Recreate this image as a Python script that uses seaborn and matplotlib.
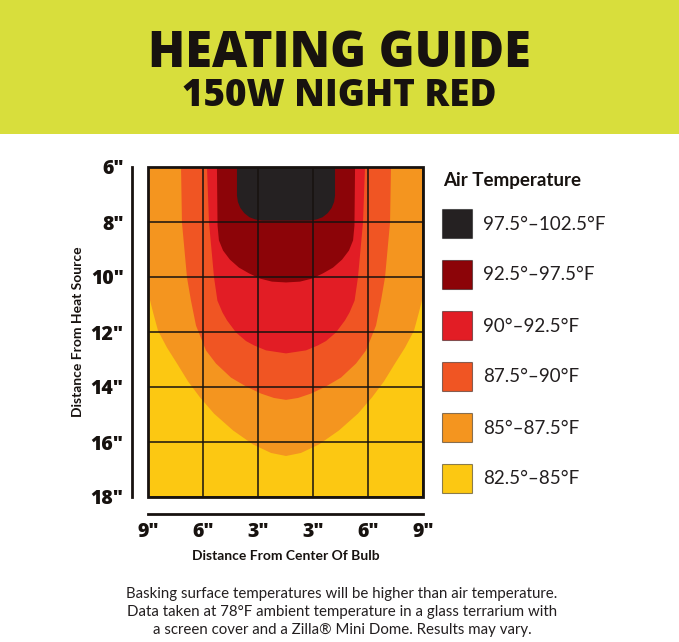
import numpy as np
import matplotlib
matplotlib.use("Agg")
import matplotlib.pyplot as plt
from matplotlib.patches import Rectangle
import seaborn as sns

# ---------------- data ----------------
title_main = "HEATING GUIDE"
title_sub = "150W NIGHT RED"

x_tick_pos = [-9, -5.4, -1.8, 1.8, 5.4, 9]
x_tick_labels = ['9"', '6"', '3"', '3"', '6"', '9"']
y_ticks = [6, 8, 10, 12, 14, 16, 18]
y_tick_labels = ['6"', '8"', '10"', '12"', '14"', '16"', '18"']

band_labels = ["97.5°–102.5°F", "92.5°–97.5°F", "90°–92.5°F",
               "87.5°–90°F", "85°–87.5°F", "82.5°–85°F"]
band_colors = ["#252122", "#8c0408", "#e21d25", "#f05523", "#f4951f", "#fcc812"]

# outer boundary of each temperature zone: depth (in) and half-width (in)
depth_975 = [6.00, 7.02, 7.25, 7.47, 7.66, 7.81, 7.89, 7.93, 7.93]
halfw_975 = [3.21, 3.21, 3.15, 2.99, 2.73, 2.39, 2.00, 1.57, 0.00]

depth_925 = [6.00, 8.11, 8.65, 9.02, 9.35, 9.64, 9.85, 10.04, 10.15, 10.18]
halfw_925 = [4.52, 4.48, 4.39, 4.12, 3.67, 3.08, 2.42, 1.70, 0.92, 0.00]

depth_900 = [6.00, 8.00, 10.00, 10.84, 11.27, 11.56, 12.00, 12.31, 12.47, 12.65, 12.76]
halfw_900 = [5.17, 5.04, 4.71, 4.49, 4.16, 3.86, 3.27, 2.62, 2.09, 1.31, 0.00]

depth_875 = [6.00, 8.00, 10.00, 10.84, 11.75, 12.11, 12.65, 13.13, 13.64, 13.96, 14.22, 14.38, 14.45]
halfw_875 = [6.87, 6.81, 6.48, 6.22, 5.89, 5.63, 5.24, 4.58, 3.60, 2.62, 1.64, 0.79, 0.00]

depth_850 = [6.00, 9.02, 10.55, 11.27, 11.93, 12.55, 13.13, 13.78, 14.36, 14.95, 15.56, 16.07, 16.38, 16.49]
halfw_850 = [9.82, 9.49, 9.03, 8.70, 8.38, 7.79, 7.13, 6.41, 5.63, 4.71, 3.47, 2.16, 0.98, 0.00]

footer_lines = [
    "Basking surface temperatures will be higher than air temperature.",
    "Data taken at 78°F ambient temperature in a glass terrarium with",
    "a screen cover and a Zilla® Mini Dome. Results may vary.",
]

# ---------------- figure ----------------
sns.set_theme(style="white")
plt.rcParams["font.family"] = ["Lato", "DejaVu Sans"]

heavy = "Open Sans"

W, H = 679, 642
fig = plt.figure(figsize=(W / 100, H / 100), dpi=100)
fig.patch.set_facecolor("white")

def fx(px):
    return px / W

def fy(py):
    return 1 - py / H

ink = "#17120f"

# header band
fig.patches.append(Rectangle((0, fy(134)), 1, 134 / H, transform=fig.transFigure,
                             facecolor="#d8de3c", edgecolor="none", zorder=0))
fig.text(fx(339), fy(67), title_main, ha="center", va="baseline",
         fontsize=35, fontweight=800, family=heavy, color=ink)
fig.text(fx(339.5), fy(106), title_sub, ha="center", va="baseline",
         fontsize=26.5, fontweight=800, family=heavy, color=ink)

# main plot
ax = fig.add_axes([fx(148), fy(497), 275 / W, 330 / H])
ax.set_xlim(-9, 9)
ax.set_ylim(18, 6)
ax.set_facecolor(band_colors[5])

zones = [(depth_850, halfw_850, band_colors[4]),
         (depth_875, halfw_875, band_colors[3]),
         (depth_900, halfw_900, band_colors[2]),
         (depth_925, halfw_925, band_colors[1]),
         (depth_975, halfw_975, band_colors[0])]
for d, hw, c in zones:
    d = np.asarray(d)
    hw = np.asarray(hw)
    ax.fill_betweenx(d, -hw, hw, color=c, lw=0, zorder=1)

ax.set_xticks(x_tick_pos)
ax.set_xticklabels(x_tick_labels)
ax.set_yticks(y_ticks)
ax.set_yticklabels(y_tick_labels)
ax.grid(True, color=ink, lw=1.1)
ax.set_axisbelow(False)

for s in ["top", "right"]:
    ax.spines[s].set_visible(False)
ax.spines["left"].set_position(("outward", 11.5))
ax.spines["bottom"].set_position(("outward", 12.2))
for s in ["left", "bottom"]:
    ax.spines[s].set_linewidth(2.0)
    ax.spines[s].set_color(ink)
ax.add_patch(Rectangle((-9, 6), 18, 12, fill=False, edgecolor=ink, lw=2.0,
                       zorder=5, clip_on=False))
ax.tick_params(axis="both", direction="inout", length=8, width=2.0, color=ink,
               labelsize=14, labelcolor=ink, pad=2)
for lab in ax.get_xticklabels() + ax.get_yticklabels():
    lab.set_fontweight(800)
    lab.set_family(heavy)

fig.text(fx(286), fy(560), "Distance From Center Of Bulb", ha="center", va="baseline",
         fontsize=10, fontweight="bold", color=ink)
fig.text(fx(78), fy(332), "Distance From Heat Source", ha="center", va="center",
         rotation=90, fontsize=10, fontweight="bold", color=ink)

# legend
fig.text(fx(443), fy(186), "Air Temperature", ha="left", va="baseline",
         fontsize=13.5, fontweight="bold", color=ink)
centers = [223, 274, 325, 376, 427, 478]
for cy, lab, col in zip(centers, band_labels, band_colors):
    fig.patches.append(Rectangle((fx(442), fy(cy + 14.5)), 30 / W, 29 / H,
                                 transform=fig.transFigure, facecolor=col,
                                 edgecolor=(0, 0, 0, 0.45), lw=0.8))
    fig.text(fx(483), fy(cy + 6.5), lab, ha="left", va="baseline",
             fontsize=13.5, fontweight="normal", color="#231f20")

# footer
for py, line in zip([598, 616, 634], footer_lines):
    fig.text(fx(342), fy(py), line, ha="center", va="baseline",
             fontsize=10.8, fontweight="normal", color="#231f20")

fig.savefig("out.png", dpi=100, facecolor="white")
